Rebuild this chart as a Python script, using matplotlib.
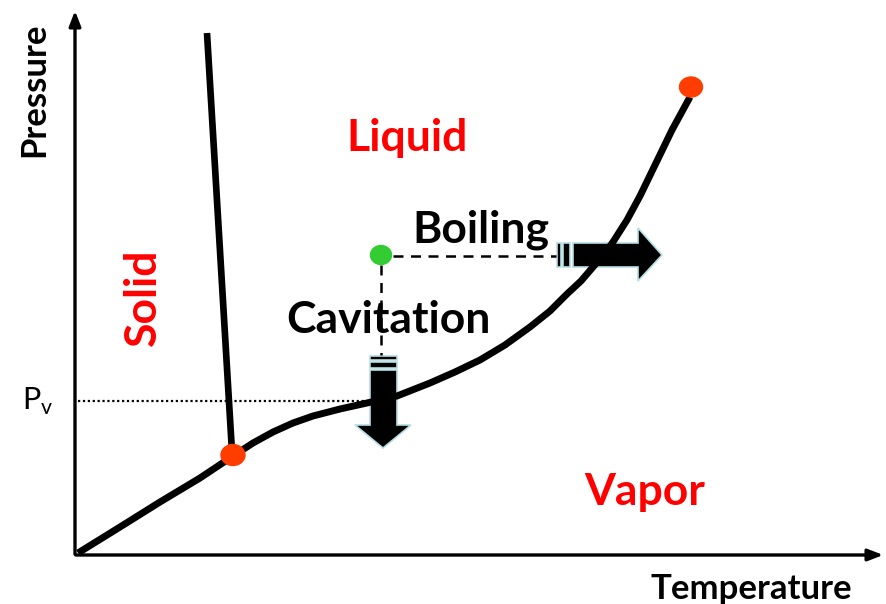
import matplotlib.pyplot as plt
from matplotlib.patches import Polygon, Ellipse

plt.rcParams['font.family'] = ['Lato', 'DejaVu Sans']

# schematic phase diagram, drawn in picture units (x to the right, y downward)
vap_T = [78, 120, 160, 200, 233, 253, 273, 293, 313, 340, 367, 397, 430, 455, 480,
         505, 530, 550, 567, 581, 593, 604, 613, 627, 640, 656, 672, 690]
vap_P = [553, 527, 502, 478, 456, 443, 432, 423, 416, 409, 403, 396, 383, 372, 360,
         345, 327, 311, 294, 281, 267, 254, 242, 220, 196, 163, 130, 97]
melt_T = [207, 232]
melt_P = [33, 452]
triple_pt = (233, 455)
critical_pt = (691, 87)
state_pt = (381, 255)
pv_level = 401

fig = plt.figure(figsize=(8.87, 6.04), dpi=100)
ax = fig.add_axes([0, 0, 1, 1])
ax.set_xlim(0, 887)
ax.set_ylim(604, 0)
ax.axis('off')

# axes with arrow heads
ax.annotate('', xy=(75, 8), xytext=(75, 557), annotation_clip=False,
            arrowprops=dict(arrowstyle='-|>,head_length=0.9,head_width=0.35', lw=2.4, color='black'))
ax.annotate('', xy=(886, 555), xytext=(73, 555), annotation_clip=False,
            arrowprops=dict(arrowstyle='-|>,head_length=0.9,head_width=0.35', lw=2.4, color='black'))

# Pv reference line
ax.plot([78, 370], [pv_level, pv_level], color='black', lw=1.6, ls=(0, (1, 1.2)))

# vapor pressure and melting curves
ax.plot(vap_T, vap_P, color='black', lw=5, solid_capstyle='butt', solid_joinstyle='round')
ax.plot(melt_T, melt_P, color='black', lw=4.8, solid_capstyle='butt')

# dashed paths from state point
ax.plot([state_pt[0] + 12, 556], [state_pt[1] + 1, state_pt[1] + 1], color='black', lw=1.8,
        ls=(0, (4, 3)))
ax.plot([state_pt[0], state_pt[0]], [state_pt[1] + 10, 355], color='black', lw=1.8,
        ls=(0, (4, 3)))

edge = '#b5dde2'
# boiling block arrow (horizontal)
ax.add_patch(Polygon([(573, 243), (638, 243), (638, 228), (662, 255), (638, 281),
                      (638, 267), (573, 267)], closed=True, fc='black', ec=edge, lw=1.2))
for x0, x1 in [(557, 561), (563, 570)]:
    ax.add_patch(Polygon([(x0, 243), (x1, 243), (x1, 267), (x0, 267)], closed=True,
                         fc='black', ec=edge, lw=1.2))

# cavitation block arrow (vertical)
ax.add_patch(Polygon([(370, 370), (397, 370), (397, 425), (411, 425), (383, 448),
                      (355, 425), (370, 425)], closed=True, fc='black', ec=edge, lw=1.2))
for y0, y1 in [(356, 360), (362, 368)]:
    ax.add_patch(Polygon([(370, y0), (397, y0), (397, y1), (370, y1)], closed=True,
                         fc='black', ec=edge, lw=1.2))

# special points
ax.add_patch(Ellipse(triple_pt, 24, 21, color='#ff3d00', zorder=5))
ax.add_patch(Ellipse(critical_pt, 23, 20, color='#ff3d00', zorder=5))
ax.add_patch(Ellipse(state_pt, 21, 19, color='#33cc33', zorder=5))

# labels
red = '#ff0000'
big = 32
ax.text(407, 138, 'Liquid', color=red, fontsize=big, fontweight='bold', ha='center', va='center')
ax.text(143, 297, 'Solid', color=red, fontsize=big, fontweight='bold', ha='center', va='center',
        rotation=90)
ax.text(645, 492, 'Vapor', color=red, fontsize=big, fontweight='bold', ha='center', va='center')
ax.text(481, 230, 'Boiling', color='black', fontsize=big, fontweight='bold', ha='center',
        va='center')
ax.text(388, 320, 'Cavitation', color='black', fontsize=big, fontweight='bold', ha='center',
        va='center')
ax.text(34, 90, 'Pressure', color='black', fontsize=25, fontweight='bold', ha='center',
        va='center', rotation=90)
ax.text(751, 589, 'Temperature', color='black', fontsize=25, fontweight='bold', ha='center',
        va='center')
ax.text(38, 401, r'P$_\mathregular{v}$', color='black', fontsize=22, ha='center', va='center')

fig.savefig('out.png', dpi=100)
